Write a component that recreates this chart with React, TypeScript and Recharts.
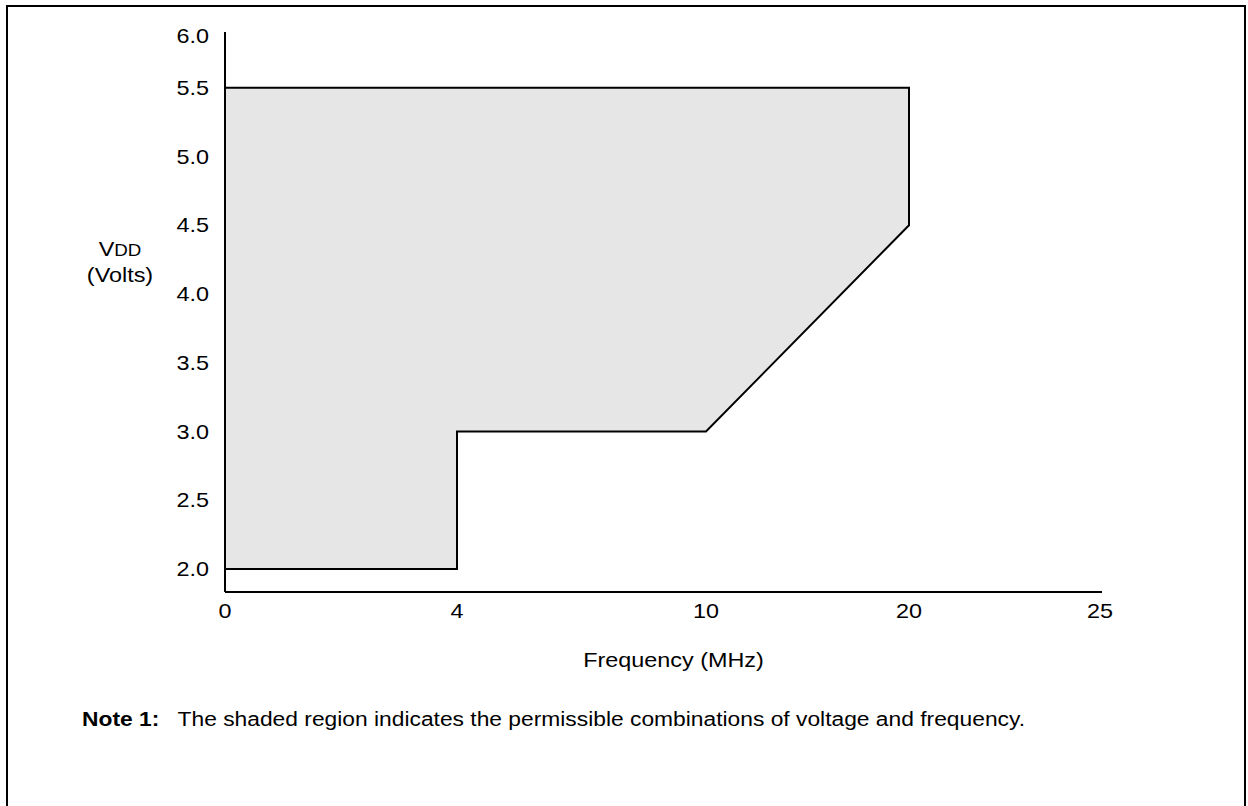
import React from 'react';
import { ComposedChart, Area, Line, XAxis, YAxis, Label } from 'recharts';

// permissible operating region, lower and upper VDD edge per frequency
const freqMHz = [0, 4, 4, 10, 20];
const vddMin = [2.0, 2.0, 3.0, 3.0, 4.5];
const vddMax = [5.5, 5.5, 5.5, 5.5, 5.5];

// x axis of the original is not linear, ticks sit at these slots
const xTickValues = [0, 4, 10, 20, 25];
const xTickLabels = ['0', '4', '10', '20', '25'];
const xTickSlots = [0, 232, 481, 684, 875];

// y axis is linear except the 6.0 label, squeezed up to the top of the axis
const yTickValues = [2.0, 2.5, 3.0, 3.5, 4.0, 4.5, 5.0, 5.5, 6.0];
const yTickLabels = ['2.0', '2.5', '3.0', '3.5', '4.0', '4.5', '5.0', '5.5', '6.0'];
const yTickSlots = [2.0, 2.5, 3.0, 3.5, 4.0, 4.5, 5.0, 5.5, 5.88];

const warp = (v: number, from: number[], to: number[]) => {
  for (let i = 0; i < from.length - 1; i++) {
    if (v <= from[i + 1]) {
      const t = (v - from[i]) / (from[i + 1] - from[i]);
      return to[i] + t * (to[i + 1] - to[i]);
    }
  }
  return to[to.length - 1];
};
const wx = (f: number) => warp(f, xTickValues, xTickSlots);
const wy = (v: number) => warp(v, yTickValues, yTickSlots);

const fillData = freqMHz.map((f, i) => ({ x: wx(f), band: [wy(vddMin[i]), wy(vddMax[i])] }));
const lowerEdge = freqMHz.map((f, i) => ({ x: wx(f), y: wy(vddMin[i]) }));
const upperEdge = freqMHz.map((f, i) => ({ x: wx(f), y: wy(vddMax[i]) })).reverse();
const outline = [...lowerEdge, ...upperEdge, lowerEdge[0]];

const FONT = '"Liberation Sans", Arial, sans-serif';
// the source text is a bit wider than Arial
const SX = 1.17;

const StretchTick = (props: any) => {
  const { x, y, payload, labels, slots, anchor, dy } = props;
  const text = labels[slots.indexOf(payload.value)];
  return (
    <text
      transform={`translate(${x},${y}) scale(${SX},1)`}
      textAnchor={anchor}
      dy={dy}
      fill="#000"
      fontSize={20}
      fontFamily={FONT}
    >
      {text}
    </text>
  );
};

const FreqLabel = (props: any) => {
  const vb = props.viewBox;
  const cx = vb.x + vb.width / 2 + 10;
  const cy = vb.y + vb.height + 28;
  return (
    <text transform={`translate(${cx},${cy}) scale(${SX},1)`} textAnchor="middle" dy="0.355em" fill="#000" fontSize={20} fontFamily={FONT}>
      Frequency (MHz)
    </text>
  );
};

export default function App() {
  return (
    <div style={{ position: 'absolute', left: 0, top: 0, width: 1248, height: 806, overflow: 'hidden', background: '#fff', fontFamily: FONT }}>
      <div style={{ position: 'absolute', left: 6, top: 5, width: 1240, height: 900, border: '2px solid #000', boxSizing: 'border-box' }} />
      <ComposedChart
        width={1248}
        height={806}
        data={fillData}
        margin={{ top: 32, right: 146, bottom: 174, left: 145 }}
      >
        <XAxis
          type="number"
          dataKey="x"
          domain={[0, 877]}
          allowDataOverflow
          ticks={xTickSlots}
          interval={0}
          height={40}
          tickLine={false}
          tickSize={0}
          tickMargin={12}
          axisLine={{ stroke: '#000', strokeWidth: 2 }}
          tick={(p: any) => <StretchTick {...p} labels={xTickLabels} slots={xTickSlots} anchor="middle" dy="0.71em" />}
        >
          <Label position="bottom" content={FreqLabel} />
        </XAxis>
        <YAxis
          type="number"
          domain={[1.833, 5.905]}
          allowDataOverflow
          ticks={yTickSlots}
          interval={0}
          width={80}
          tickLine={false}
          tickSize={0}
          tickMargin={16}
          axisLine={{ stroke: '#000', strokeWidth: 2 }}
          tick={(p: any) => <StretchTick {...p} labels={yTickLabels} slots={yTickSlots} anchor="end" dy="0.355em" />}
        />
        <Area
          type="linear"
          dataKey="band"
          fill="#e6e6e6"
          fillOpacity={1}
          stroke="none"
          isAnimationActive={false}
        />
        <Line
          data={outline}
          type="linear"
          dataKey="y"
          stroke="#000"
          strokeWidth={2}
          dot={false}
          activeDot={false}
          isAnimationActive={false}
        />
      </ComposedChart>
      <div style={{ position: 'absolute', left: 70, top: 237, width: 100, textAlign: 'center', fontSize: 20, lineHeight: '24px', color: '#000', transform: `scaleX(${SX})` }}>
        <div>V<span style={{ fontSize: 16 }}>DD</span></div>
        <div>(Volts)</div>
      </div>
      <div style={{ position: 'absolute', left: 82, top: 708, fontSize: 20, color: '#000', whiteSpace: 'nowrap', transform: 'scaleX(1.14)', transformOrigin: 'left center' }}>
        <b>Note 1:</b>
        <span style={{ marginLeft: 16 }}>The shaded region indicates the permissible combinations of voltage and frequency.</span>
      </div>
    </div>
  );
}
